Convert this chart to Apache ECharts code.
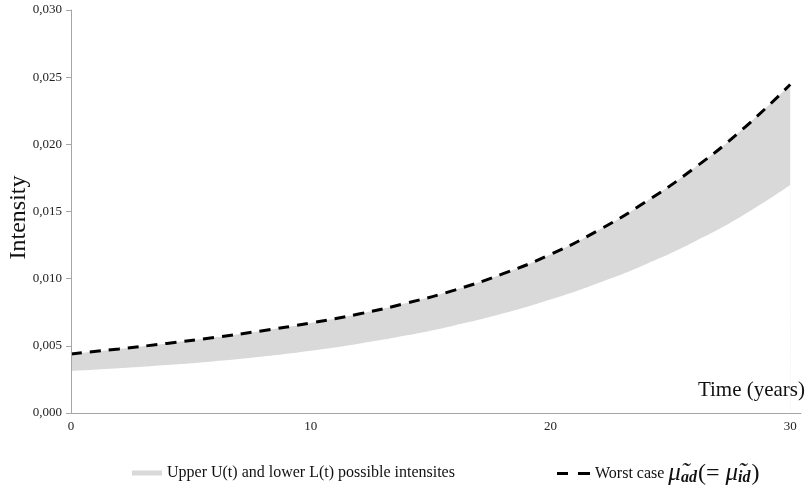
<!DOCTYPE html>
<html>
<head>
<meta charset="utf-8">
<script src="https://cdn.jsdelivr.net/npm/echarts@6/dist/echarts.min.js"></script>
<style>
  html, body { margin: 0; padding: 0; background: #fff; }
  #chart { width: 808px; height: 490px; }
</style>
</head>
<body>
<div id="chart"></div>
<script>
// time in years
var years = [0, 2, 4, 6, 8, 10, 12, 14, 16, 18, 20, 22, 24, 26, 28, 30];
// upper bound U(t) = worst case
var upper = [0.00440, 0.00477, 0.00518, 0.00563, 0.00613, 0.00670, 0.00737, 0.00818,
             0.00915, 0.01035, 0.01180, 0.01360, 0.01575, 0.01823, 0.02110, 0.02445];
// lower bound L(t)
var lower = [0.00313, 0.00333, 0.00357, 0.00386, 0.00421, 0.00464, 0.00516, 0.00578,
             0.00652, 0.00740, 0.00845, 0.00968, 0.01110, 0.01275, 0.01468, 0.01697];
var yTicks = [0, 0.005, 0.010, 0.015, 0.020, 0.025, 0.030];

var serif = '"Liberation Serif", "DejaVu Serif", serif';
var axisGray = '#a6a6a6';
var bandGray = '#d9d9d9';
var bandName = 'Upper U(t) and lower L(t) possible intensites';
var worstName = 'Worst case';

var chart = echarts.init(document.getElementById('chart'), null, { renderer: 'canvas' });

function pairs(ys) {
  return years.map(function(t, i) { return [t, ys[i]]; });
}

var option = {
  animation: false,
  grid: { left: 71, right: 7, top: 10, bottom: 77, containLabel: false, outerBoundsMode: 'none' },
  xAxis: {
    type: 'value',
    min: 0,
    max: 30.45,
    interval: 10,
    z: 10,
    splitLine: { show: false },
    axisLine: { lineStyle: { color: axisGray, width: 1 } },
    axisTick: { show: false },
    axisLabel: {
      showMaxLabel: false,
      margin: 7,
      color: '#222',
      fontFamily: serif,
      fontSize: 13
    }
  },
  yAxis: {
    type: 'value',
    min: yTicks[0],
    max: yTicks[yTicks.length - 1],
    interval: 0.005,
    z: 10,
    name: 'Intensity',
    nameLocation: 'middle',
    nameRotate: 90,
    nameGap: 40,
    nameMoveOverlap: false,
    nameTextStyle: { color: '#111', fontFamily: serif, fontSize: 24, padding: [0, 12, 0, 0] },
    splitLine: { show: false },
    axisLine: { show: true, lineStyle: { color: axisGray, width: 1 } },
    axisTick: { show: true, length: 5, lineStyle: { color: axisGray } },
    axisLabel: {
      margin: 9,
      color: '#222',
      fontFamily: serif,
      fontSize: 13,
      formatter: function(v) { return v.toFixed(3).replace('.', ','); }
    }
  },
  legend: [
    {
      left: 132,
      top: 465,
      padding: 0,
      data: [{ name: bandName, icon: 'rect', itemStyle: { color: bandGray } }],
      itemWidth: 30,
      itemHeight: 5,
      textStyle: { color: '#111', fontFamily: serif, fontSize: 16 },
      selectedMode: false
    },
    {
      left: 557,
      top: 461,
      padding: 0,
      data: [{ name: worstName, icon: 'path://M0,0H11V3H0Z M21,0H33V3H21Z', itemStyle: { color: '#000' } }],
      itemWidth: 33,
      itemHeight: 3,
      textStyle: {
        color: '#111', fontFamily: serif, fontSize: 16,
        rich: {
          mu: { fontFamily: serif, fontStyle: 'italic', fontSize: 25, color: '#111' },
          sub: { fontFamily: serif, fontStyle: 'italic', fontWeight: 'bold', fontSize: 16, color: '#111', padding: [8, 1, 0, 0] },
          par: { fontFamily: serif, fontSize: 24, color: '#111' }
        }
      },
      formatter: function(name) {
        return name + ' {mu|\u03bc\u0303}{sub|ad}{par|(= }{mu|\u03bc\u0303}{sub|id}{par|)}';
      },
      selectedMode: false
    }
  ],
  graphic: [
    {
      type: 'text',
      right: 3,
      top: 380,
      z: 100,
      style: { text: 'Time (years)', fill: '#111', font: '21px ' + serif }
    }
  ],
  series: [
    {
      name: bandName,
      type: 'line',
      data: pairs(upper),
      smooth: true,
      symbol: 'none',
      color: bandGray,
      lineStyle: { width: 0, color: bandGray },
      areaStyle: { color: bandGray, opacity: 1, origin: 'start' },
      silent: true,
      z: 1
    },
    {
      name: 'lowerMask',
      type: 'line',
      data: pairs(lower),
      smooth: true,
      symbol: 'none',
      lineStyle: { width: 0, color: '#fff' },
      areaStyle: { color: '#fff', opacity: 1, origin: 'start' },
      silent: true,
      z: 2
    },
    {
      name: worstName,
      type: 'line',
      data: pairs(upper),
      smooth: true,
      symbol: 'none',
      color: '#000',
      lineStyle: { color: '#000', width: 3, type: [11, 8] },
      z: 3
    }
  ]
};
chart.setOption(option);
window.addEventListener('resize', function() { chart.resize(); });
</script>
</body>
</html>
